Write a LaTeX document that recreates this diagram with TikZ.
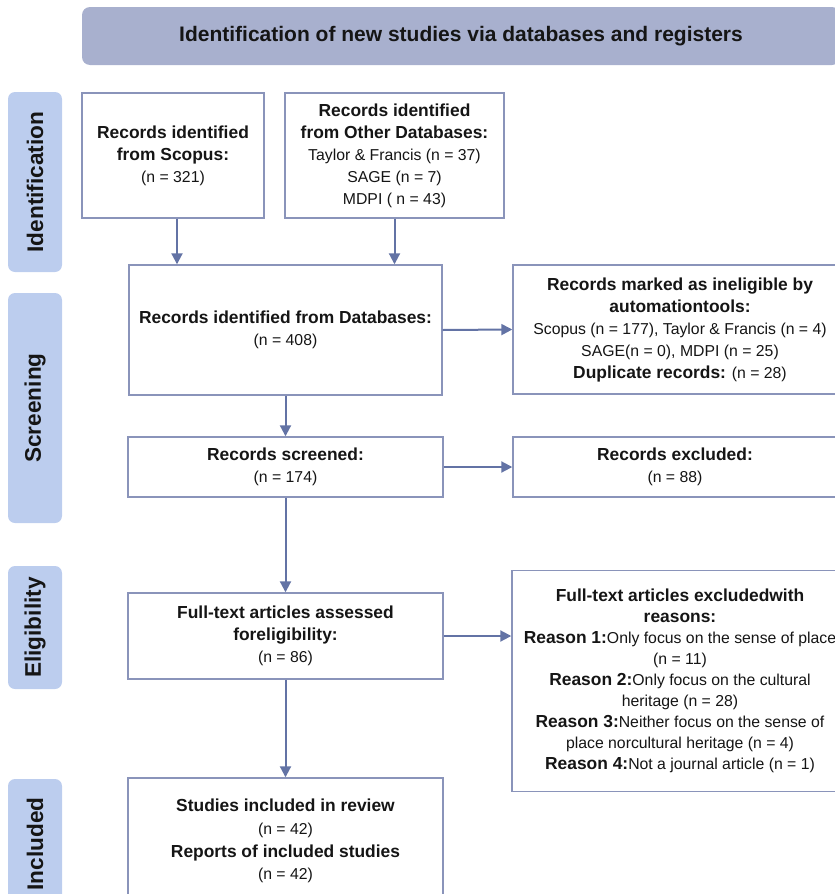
\documentclass[tikz,border=0pt]{standalone}
\usepackage{fontspec}
\setmainfont{Liberation Sans}
\usetikzlibrary{arrows.meta}
\definecolor{hdrfill}{HTML}{A8B0CE}
\definecolor{sidefill}{HTML}{BCCDEE}
\definecolor{bord}{HTML}{8A94BA}
\definecolor{arrcol}{HTML}{6373A5}
\definecolor{txt}{HTML}{151515}
\newcommand{\bt}[1]{{\fontsize{17.4}{22}\selectfont\bfseries #1}}
\begin{document}
\begin{tikzpicture}[x=1pt,y=-1pt,
  pbox/.style={draw=bord, line width=1.4pt, fill=white, align=center, inner sep=0pt, text=txt,
    font=\fontsize{15.8}{22}\selectfont},
  sidebox/.style={fill=sidefill, rounded corners=7pt, rotate=90, minimum height=54pt, inner sep=0pt,
    text=txt, font=\fontsize{22.6}{26}\selectfont\bfseries},
  arr/.style={draw=arrcol, line width=2pt, -{Triangle[length=11pt,width=11pt]}}]
\useasboundingbox (0,0) rectangle (835,894);
\clip (0,0) rectangle (835,894);
% header
\node[fill=hdrfill, rounded corners=8pt, minimum width=758pt, minimum height=58pt, inner sep=0pt,
  text=txt, font=\fontsize{21}{25}\selectfont\bfseries] (hdr) at (461,36)
  {Identification of new studies via databases and registers};
% side labels
\node[sidebox, minimum width=180pt] (sid) at (35,182) {Identification};
\node[sidebox, minimum width=230pt] (sscr) at (35,408) {Screening};
\node[sidebox, minimum width=123pt] (seli) at (35,627.5) {Eligibility};
\node[sidebox, minimum width=130pt] (sinc) at (35,844) {Included};
% boxes
\node[pbox, minimum width=182pt, minimum height=125pt] (scopus) at (173,155.5)
  {\bt{Records identified}\\ \bt{from Scopus:}\\ (n = 321)};
\node[pbox, minimum width=219pt, minimum height=125pt] (other) at (394.5,155.5)
  {\bt{Records identified}\\ \bt{from Other Databases:}\\ Taylor \& Francis (n = 37)\\ SAGE (n = 7)\\ MDPI ( n = 43)};
\node[pbox, minimum width=313pt, minimum height=130pt] (db) at (285.5,330)
  {\bt{Records identified from Databases:}\\ (n = 408)};
\node[pbox, minimum width=334pt, minimum height=129pt] (inel) at (680,329.5)
  {\bt{Records marked as ineligible by}\\ \bt{automationtools:}\\ Scopus (n = 177), Taylor \& Francis (n = 4)\\ SAGE(n = 0), MDPI (n = 25)\\ \bt{Duplicate records:} (n = 28)};
\node[pbox, minimum width=315pt, minimum height=60pt] (scr) at (285.5,467)
  {\bt{Records screened:}\\ (n = 174)};
\node[pbox, minimum width=324pt, minimum height=60pt] (excl) at (675,467)
  {\bt{Records excluded:}\\ (n = 88)};
\node[pbox, minimum width=315pt, minimum height=86pt] (ass) at (285.5,636)
  {\bt{Full-text articles assessed}\\ \bt{foreligibility:}\\ (n = 86)};
\node[pbox, minimum width=336pt, minimum height=221pt, font=\fontsize{15.8}{21}\selectfont] (ftex) at (680,681)
  {{\fontsize{17.4}{21}\selectfont\bfseries Full-text articles excludedwith}\\ {\fontsize{17.4}{21}\selectfont\bfseries reasons:}\\
   {\fontsize{17.4}{21}\selectfont\bfseries Reason 1:}Only focus on the sense of place\\ (n = 11)\\
   {\fontsize{17.4}{21}\selectfont\bfseries Reason 2:}Only focus on the cultural\\ heritage (n = 28)\\
   {\fontsize{17.4}{21}\selectfont\bfseries Reason 3:}Neither focus on the sense of\\
   place norcultural heritage (n = 4)\\ {\fontsize{17.4}{21}\selectfont\bfseries Reason 4:}Not a journal article (n = 1)};
\node[pbox, minimum width=315pt, minimum height=126pt, font=\fontsize{15.8}{22.7}\selectfont] (incl) at (285.5,841)
  {{\fontsize{17.4}{22.7}\selectfont\bfseries Studies included in review}\\ (n = 42)\\ {\fontsize{17.4}{22.7}\selectfont\bfseries Reports of included studies}\\ (n = 42)};
% connectors
\draw[arr] ([xshift=4pt]scopus.south) -- ([xshift=4pt]scopus.south |- db.north);
\draw[arr] (other.south) -- (other.south |- db.north);
\draw[arr] (db.east) -- (inel.west);
\draw[arr] (db.south) -- (scr.north);
\draw[arr] (scr.east) -- (excl.west);
\draw[arr] (scr.south) -- (ass.north);
\draw[arr] (ass.east) -- (ass.east -| ftex.west);
\draw[arr] (ass.south) -- (incl.north);
\end{tikzpicture}
\end{document}
